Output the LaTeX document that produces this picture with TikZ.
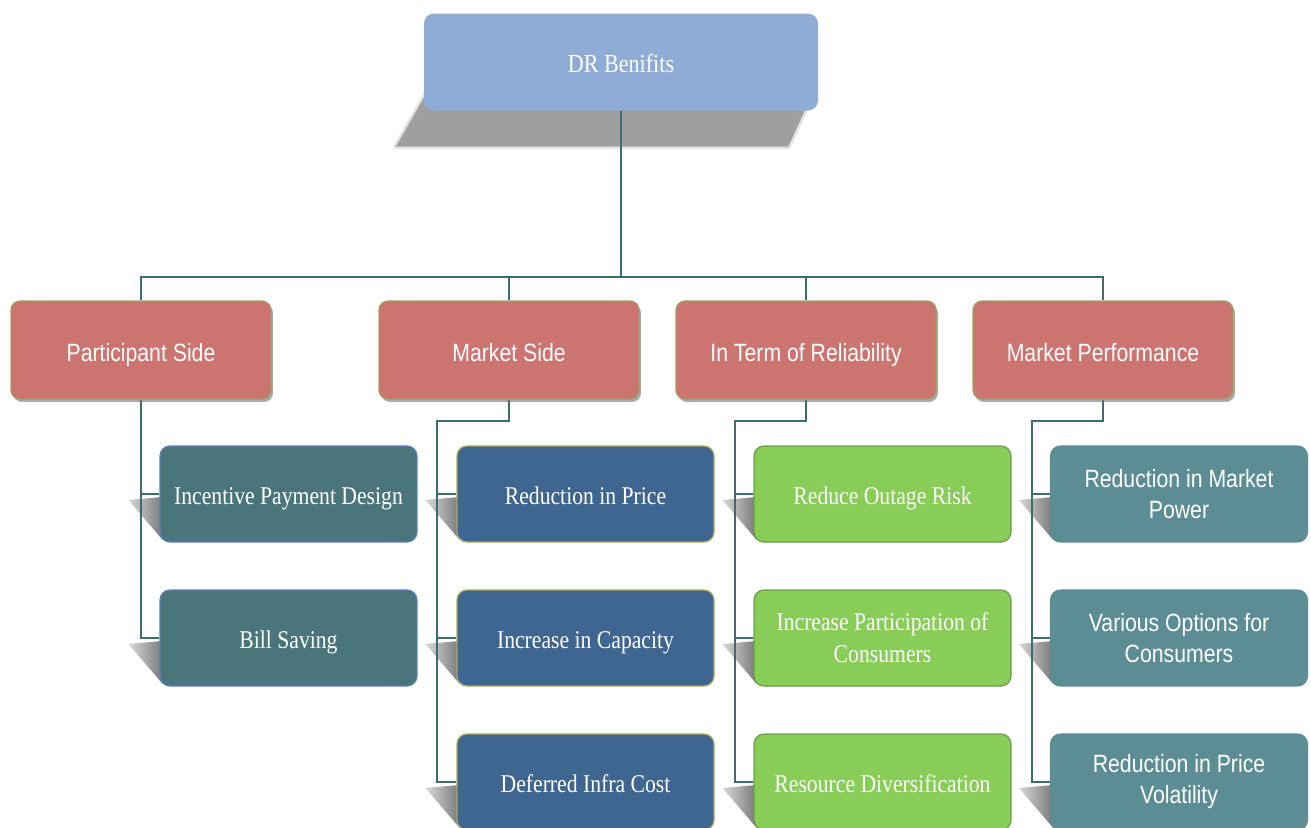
\documentclass[tikz,border=0pt]{standalone}
\usepackage{fontspec}
\setmainfont{Liberation Serif}[FakeStretch=0.85]
\newfontfamily\arialish{Liberation Sans}[FakeStretch=0.85]
\usetikzlibrary{calc,shadows}

\definecolor{topblue}{RGB}{143,172,214}
\definecolor{catred}{RGB}{204,116,112}
\definecolor{catedge}{RGB}{160,158,96}
\definecolor{psteal}{RGB}{74,117,122}
\definecolor{psedge}{RGB}{90,130,180}
\definecolor{msblue}{RGB}{63,101,145}
\definecolor{msedge}{RGB}{168,168,90}
\definecolor{relgreen}{RGB}{136,205,88}
\definecolor{reledge}{RGB}{104,156,76}
\definecolor{mpteal}{RGB}{92,141,148}
\definecolor{linkcol}{RGB}{61,107,112}

\pgfdeclarelayer{background}
\pgfsetlayers{background,main}

\tikzset{
  rootbox/.style={rounded corners=10pt, fill=topblue, text=white,
    minimum width=394pt, minimum height=97pt, text height=21pt, text depth=0pt,
    font=\fontsize{26}{30}\selectfont},
  catbox/.style={rounded corners=9pt, fill=catred, draw=catedge, line width=1.2pt,
    text=white, minimum width=260pt, minimum height=98pt,
    text height=22pt, text depth=0pt,
    font=\arialish\fontsize{25}{30}\selectfont,
    drop shadow={shadow xshift=2pt, shadow yshift=-3pt, opacity=.6, fill=black!55}},
  leaf/.style={rounded corners=10pt, line width=1.2pt, text=white, align=center,
    minimum width=257pt, minimum height=96pt, inner sep=0pt},
  serifleaf/.style={leaf, font=\fontsize{25.5}{32}\selectfont},
  oneline/.style={text height=20pt, text depth=0pt},
  sansleaf/.style={leaf, font=\arialish\fontsize{25}{31}\selectfont},
  link/.style={draw=linkcol, line width=1.3pt},
  pshadow/.style={fill=gray!75, draw=gray!70, draw opacity=.3, line width=5pt, line join=round},
  wedge/.style={left color=gray!30, right color=gray!95!black}
}

\newcommand\leafshadow[1]{%
  \path[wedge] ($(#1.west)+(3,3)$) -- ($(#1.west)+(-31,6)$) -- ($(#1.south west)+(3,-3)$) -- cycle;}

\begin{document}
\begin{tikzpicture}[x=1pt,y=-1pt]
\useasboundingbox (0,0) rectangle (1311,827);

\node[rootbox] (root) at (621,62) {DR Benifits};

\node[catbox] (ps) at (141,350) {Participant Side};
\node[catbox] (ms) at (509,350) {Market Side};
\node[catbox] (rel) at (806,350) {In Term of Reliability};
\node[catbox] (mp) at (1103,350) {Market Performance};

% participant side
\node[serifleaf, oneline, fill=psteal, draw=psedge] (ipd) at (288.5,494) {Incentive Payment Design};
\node[serifleaf, oneline, fill=psteal, draw=psedge] (bs) at (288.5,638) {Bill Saving};
% market side
\node[serifleaf, oneline, fill=msblue, draw=msedge] (rp) at (585.5,494) {Reduction in Price};
\node[serifleaf, oneline, fill=msblue, draw=msedge] (ic) at (585.5,638) {Increase in Capacity};
\node[serifleaf, oneline, fill=msblue, draw=msedge] (dic) at (585.5,782) {Deferred Infra Cost};
% reliability
\node[serifleaf, oneline, fill=relgreen, draw=reledge] (roe) at (882.5,494) {Reduce Outage Risk};
\node[serifleaf, fill=relgreen, draw=reledge] (ipc) at (882.5,638) {Increase Participation of\\Consumers};
\node[serifleaf, oneline, fill=relgreen, draw=reledge] (rd) at (882.5,782) {Resource Diversification};
% market performance
\node[sansleaf, fill=mpteal, draw=mpteal] (rmp) at (1179,494) {Reduction in Market\\Power};
\node[sansleaf, fill=mpteal, draw=mpteal] (voc) at (1179,638) {Various Options for\\Consumers};
\node[sansleaf, fill=mpteal, draw=mpteal] (rpv) at (1179,782) {Reduction in Price\\Volatility};

\begin{pgfonlayer}{background}
% shadows
\path[pshadow] ($(root.south west)+(4,-20)$) -- ($(root.south east)+(-4,-20)$)
  -- ($(root.south east)+(-30,36)$) -- ($(root.south west)+(-28,36)$) -- cycle;
\foreach \l in {ipd,bs,rp,ic,dic,roe,ipc,rd,rmp,voc,rpv}
  \leafshadow{\l};

% connectors
\coordinate (bus) at (621,277);
\foreach \c in {ps,ms,rel,mp}
  \draw[link] (root.south) -- (bus) -| (\c.north);
\draw[link] (ps.south) |- (ipd.west);
\draw[link] (ps.south) |- (bs.west);
\foreach \c/\r/\a/\b/\z in {ms/437/rp/ic/dic, rel/735/roe/ipc/rd, mp/1032/rmp/voc/rpv}{
  \coordinate (rail) at (\r,421);
  \draw[link] (\c.south) |- (rail) |- (\z.west);
  \draw[link] (rail |- \a.west) -- (\a.west);
  \draw[link] (rail |- \b.west) -- (\b.west);
}
\end{pgfonlayer}
\end{tikzpicture}
\end{document}
